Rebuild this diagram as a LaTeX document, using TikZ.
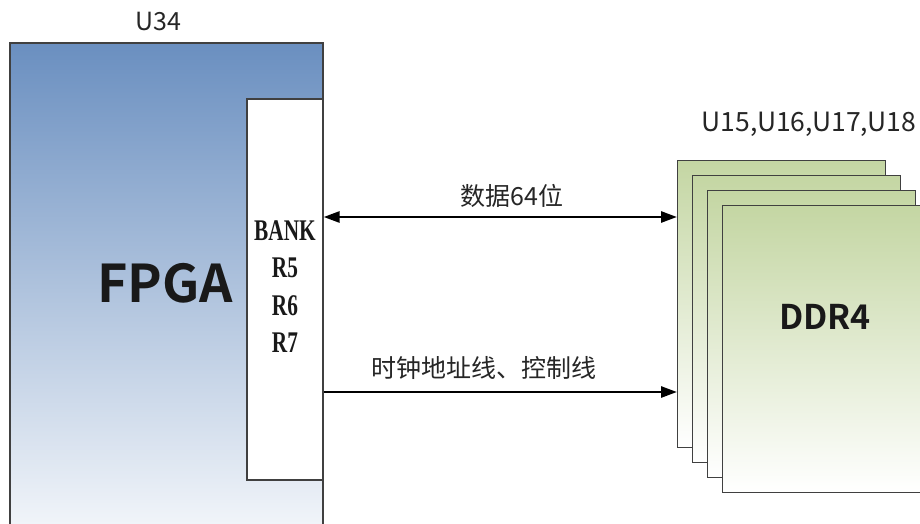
\documentclass[tikz,border=0pt]{standalone}
\usepackage{fontspec}
\setmainfont{Liberation Serif}
\newfontfamily\cjk{Noto Sans CJK SC}
\newfontfamily\cjkb{Noto Sans CJK SC Bold}
\usetikzlibrary{arrows.meta}
\begin{document}
\begin{tikzpicture}[x=1pt,y=-1pt,
  chip/.style={draw=black!75,line width=1.4pt,inner sep=0pt,minimum width=208pt,minimum height=287pt,
    top color=ddrgreen,bottom color=white},
  conn/.style={line width=2.7pt,black},
  lbl/.style={font=\cjk\fontsize{25}{27}\selectfont,text=black!85,inner sep=0pt}]
\definecolor{fpgablue}{HTML}{6A8FC0}
\definecolor{ddrgreen}{HTML}{C4D6A3}
\useasboundingbox (0,0) rectangle (920,524);
\clip (0,0) rectangle (920,524);
\fill[white] (0,0) rectangle (920,524);
% FPGA
\node[draw=black!75,line width=1.4pt,inner sep=0pt,minimum width=313pt,minimum height=517pt,
  top color=fpgablue,bottom color=white!97!fpgablue] (fpga) at (166.5,301.5) {};
\node[font=\cjkb\fontsize{52}{54}\selectfont,text=black!90,inner sep=0pt] (fpgat) at (165,283) {FPGA};
\node[lbl] (u34) at (158,22) {U34};
% Bank
\node[draw=black!75,line width=1.2pt,fill=white,inner sep=0pt,minimum width=76pt,minimum height=381pt] (bank) at (285,289.5) {};
\node[inner sep=0pt,align=center,font=\bfseries\fontsize{30}{37.5}\selectfont,xscale=0.71,anchor=north,text=black!90] (bankt) at (285,220)
  {BANK\\R5\\R6\\R7};
% DDR stack
\node[chip,anchor=north west] (r1) at (677,160) {};
\node[chip,anchor=north west] (r2) at (692,175) {};
\node[chip,anchor=north west] (r3) at (707,190) {};
\node[chip,anchor=north west] (r4) at (722,205) {};
\node[font=\cjkb\fontsize{34}{36}\selectfont,text=black!90,inner sep=0pt] (ddrt) at (825,317) {DDR4};
\node[lbl,font=\cjk\fontsize{26.5}{28}\selectfont] (ul) at (809,124) {U15,U16,U17,U18};
% connectors
\coordinate (ya) at (0,217);
\coordinate (yb) at (0,392);
\draw[conn,{Triangle[length=16pt,width=11pt]}-{Triangle[length=16pt,width=11pt]}] (bank.east |- ya) -- (r1.west |- ya);
\draw[conn,-{Triangle[length=16pt,width=11pt]}] (bank.east |- yb) -- (r1.west |- yb);
\node[lbl] (la) at (512,196) {数据64位};
\node[lbl] (lb) at (484,368) {时钟地址线、控制线};
\end{tikzpicture}
\end{document}
